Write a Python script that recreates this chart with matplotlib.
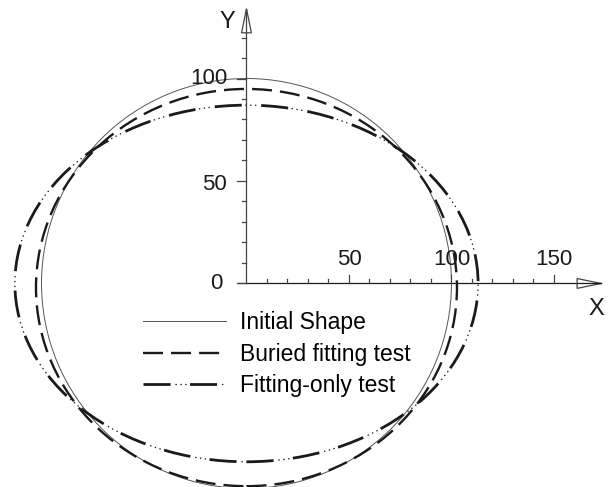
import matplotlib
matplotlib.use('Agg')
import matplotlib.pyplot as plt
from matplotlib.patches import Ellipse, Polygon
from matplotlib.lines import Line2D

plt.rcParams['font.family'] = ['Liberation Sans', 'DejaVu Sans']
plt.rcParams['lines.scale_dashes'] = False

# shapes (centre x, centre y, half width, half height)
initial_shape = (0.0, 0.0, 100.0, 100.0)
buried_test = (0.0, -2.0, 102.7, 96.9)
fitting_only = (0.0, 0.0, 113.0, 87.0)

labels = ['Initial Shape', 'Buried fitting test', 'Fitting-only test']

x_minor = list(range(10, 151, 10))
y_minor = list(range(10, 121, 10))
x_labeled = [50, 100, 150]
y_labeled = [0, 50, 100]

x_axis_end = 173.0
y_axis_end = 134.0

ink = '#1a1a1a'
dashed = (0, (14.4, 5.8))
thick_dash = (0, (19.5, 14.0))
dots = (10.5, (1.0, 2.5, 1.0, 2.5, 1.0, 25.5))

fig = plt.figure(figsize=(6.1, 4.87), dpi=100)
ax = fig.add_axes([0, 0, 1, 1])
ax.set_xlim(-120.2, 177.3)
ax.set_ylim(-99.3, 138.3)
ax.set_aspect('equal')
ax.axis('off')

cx, cy, a, b = initial_shape
ax.add_patch(Ellipse((cx, cy), 2 * a, 2 * b, fill=False, lw=0.7, color='#555555'))
cx, cy, a, b = buried_test
ax.add_patch(Ellipse((cx, cy), 2 * a, 2 * b, fill=False, lw=1.7, color=ink, linestyle=dashed))
cx, cy, a, b = fitting_only
ax.add_patch(Ellipse((cx, cy), 2 * a, 2 * b, fill=False, lw=2.0, color=ink, linestyle=thick_dash))
ax.add_patch(Ellipse((cx, cy), 2 * a, 2 * b, fill=False, lw=0.9, color=ink, linestyle=dots))

# axes through the origin
ax.plot([-4, x_axis_end], [0, 0], color=ink, lw=0.9)
ax.plot([0, 0], [0, y_axis_end], color='#444444', lw=0.9)
arr_len, arr_half = 11.7, 2.4
ax.add_patch(Polygon([[x_axis_end, 0], [x_axis_end - arr_len, arr_half],
                      [x_axis_end - arr_len, -arr_half]], closed=True,
                     facecolor='white', edgecolor='#444444', lw=0.9, zorder=3))
ax.add_patch(Polygon([[0, y_axis_end], [arr_half, y_axis_end - arr_len],
                      [-arr_half, y_axis_end - arr_len]], closed=True,
                     facecolor='white', edgecolor='#444444', lw=0.9, zorder=3))
ax.plot([x_axis_end - arr_len, x_axis_end], [0, 0], color=ink, lw=0.9, zorder=4)
ax.plot([0, 0], [y_axis_end - arr_len, y_axis_end], color='#444444', lw=0.9, zorder=4)

for xv in x_minor:
    h = 4.0 if xv in x_labeled else 2.4
    ax.plot([xv, xv], [0, h], color='#444444', lw=0.9)
for yv in y_minor + [0]:
    w = 4.8 if yv in y_labeled else 2.4
    ax.plot([-w, 0], [yv, yv], color='#444444', lw=0.9)

for xv in x_labeled:
    ax.text(xv, 11.5, str(xv), ha='center', va='center', fontsize=16, color=ink)
for yv in y_labeled:
    dx = -11.5 if yv == 0 else -9.5
    ax.text(dx, yv - (1.5 if yv == 50 else 0), str(yv), ha='right', va='center',
            fontsize=16, color=ink)

ax.text(-9.5, 127.5, 'Y', ha='center', va='center', fontsize=17, color=ink)
ax.text(170.5, -12.5, 'X', ha='center', va='center', fontsize=17, color=ink)

h1 = Line2D([], [], color='#555555', lw=0.7)
h2 = Line2D([], [], color=ink, lw=1.7, linestyle=dashed)
h3a = Line2D([], [], color=ink, lw=2.0, linestyle=thick_dash)
h3b = Line2D([], [], color=ink, lw=0.9, linestyle=dots)
ax.legend([h1, h2, (h3a, h3b)], labels, loc='upper left',
          bbox_to_anchor=(143 / 610, 1 - 311 / 487), frameon=False,
          fontsize=16.5, handlelength=3.6, handletextpad=0.65,
          labelspacing=0.38, borderpad=0, borderaxespad=0)

fig.savefig('out.png', dpi=100)
